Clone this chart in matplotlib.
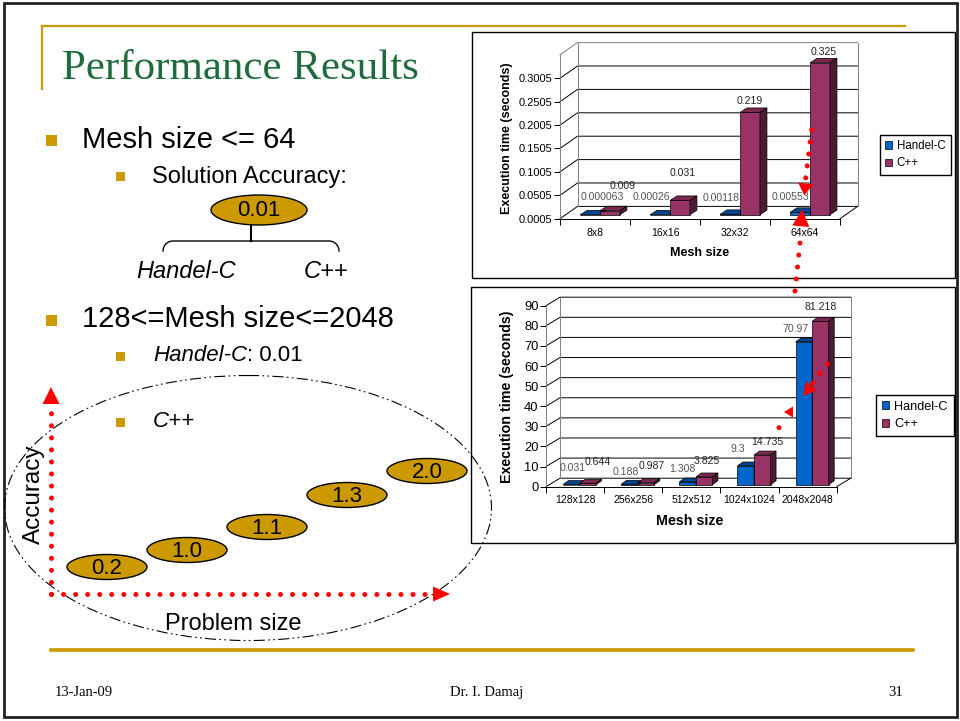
import matplotlib
matplotlib.use('Agg')
import matplotlib.pyplot as plt
import numpy as np
from matplotlib.patches import Rectangle, Ellipse, Polygon
from matplotlib.lines import Line2D
from matplotlib.transforms import offset_copy, IdentityTransform

plt.rcParams['font.family'] = ['Liberation Sans', 'DejaVu Sans']

# execution times, mesh size <= 64
small_meshes = ['8x8', '16x16', '32x32', '64x64']
small_handelc = [0.000063, 0.00026, 0.00118, 0.00553]
small_cpp = [0.009, 0.031, 0.219, 0.325]
small_ticks = [0.0005, 0.0505, 0.1005, 0.1505, 0.2005, 0.2505, 0.3005]
small_tick_labels = ['0.0005', '0.0505', '0.1005', '0.1505', '0.2005', '0.2505', '0.3005']

# execution times, 128 <= mesh size <= 2048
large_meshes = ['128x128', '256x256', '512x512', '1024x1024', '2048x2048']
large_handelc = [0.031, 0.188, 1.308, 9.3, 70.97]
large_cpp = [0.644, 0.987, 3.825, 14.735, 81.218]
large_ticks = [0, 10, 20, 30, 40, 50, 60, 70, 80, 90]

series_names = ['Handel-C', 'C++']
accuracy_labels = ['0.2', '1.0', '1.1', '1.3', '2.0']

W, H = 960, 721
GOLD = '#cc9900'
BLUE, BLUE_TOP, BLUE_SIDE = '#0066cc', '#00458c', '#003060'
PLUM, PLUM_TOP, PLUM_SIDE = '#993366', '#7a2850', '#4d1a33'

fig = plt.figure(figsize=(W / 100, H / 100), dpi=100)
fig.patch.set_facecolor('white')

bg = fig.add_axes([0, 0, 1, 1], zorder=0)
bg.set_xlim(0, W)
bg.set_ylim(H, 0)
bg.axis('off')

# slide frame and gold rules
bg.add_patch(Rectangle((4, 3), 953, 714, fill=False, lw=2, ec='#222222'))
bg.plot([42, 905], [26, 26], color=GOLD, lw=1.6)
bg.plot([42, 42], [26, 89], color=GOLD, lw=1.6)
bg.plot([51, 913], [650, 650], color=GOLD, lw=2.6)

bg.text(62, 79, 'Performance Results', family='Liberation Serif', fontsize=31,
        color='#1e6b3c', va='baseline')


def bullet(x, y, s):
    bg.add_patch(Rectangle((x, y), s, s, color=GOLD, lw=0))


bullet(46, 135, 11)
bg.text(82, 148, 'Mesh size <= 64', fontsize=21, va='baseline')
bullet(116, 172, 9)
bg.text(152, 182.7, 'Solution Accuracy:', fontsize=17, va='baseline')

# accuracy tree for small meshes
bg.add_patch(Ellipse((259, 210), 96, 30, fc=GOLD, ec='black', lw=1))
bg.text(259, 211, '0.01', fontsize=16, ha='center', va='center')
bg.plot([251, 251], [225, 241], color='black', lw=1.5)
r = 10
arc = np.linspace(0, np.pi / 2, 12)
bg.plot(np.concatenate([163 + r - r * np.cos(arc), 339 - r + r * np.sin(arc)]),
        np.concatenate([241 + r - r * np.sin(arc), 241 + r - r * np.cos(arc)]),
        color='black', lw=1)
bg.text(186, 277.7, 'Handel-C', fontsize=17, style='italic', ha='center', va='baseline')
bg.text(326, 277.7, 'C++', fontsize=17, style='italic', ha='center', va='baseline')

bullet(46, 315, 11)
bg.text(82, 326.7, '128<=Mesh size<=2048', fontsize=21, va='baseline')
bullet(116, 352, 9)
hc = bg.text(153, 366, 'Handel-C', fontsize=16, style='italic', va='bottom')
bg.annotate(': 0.01', xy=(1, 0), xycoords=hc, fontsize=16, va='bottom')
bullet(116, 417.5, 9)
bg.text(153, 427.3, 'C++', fontsize=16, style='italic', va='baseline')

# accuracy ellipses growing with problem size
acc_pos = [(107, 567), (187, 550), (267, 527), (347, 495), (427, 471)]
for (cx, cy), lab in zip(acc_pos, accuracy_labels):
    bg.add_patch(Ellipse((cx, cy), 80, 25, fc=GOLD, ec='black', lw=1))
    bg.text(cx, cy + 1.5, lab, fontsize=16, ha='center', va='center')

bg.text(33.5, 494, 'Accuracy', fontsize=17.5, rotation=90, ha='center', va='center')
bg.text(233, 630, 'Problem size', fontsize=17, ha='center', va='baseline')

# footer
bg.text(55, 696, '13-Jan-09', family='Liberation Serif', fontsize=10.5, va='baseline')
bg.text(487, 696, 'Dr. I. Damaj', family='Liberation Serif', fontsize=10.5,
        ha='center', va='baseline')
bg.text(903, 696, '31', family='Liberation Serif', fontsize=10.5, ha='right', va='baseline')

# chart frames
bg.add_patch(Rectangle((472, 32), 483, 246, fc='white', ec='black', lw=1))
bg.add_patch(Rectangle((471, 287), 484, 256, fc='white', ec='black', lw=1))


def chart3d(box, cats, s1, s2, ylim, ticks, tick_labels, depth, shift, bdepth,
            label_offsets, fs, lab_fs, title_xy, xlab_xy, leg_xy, leg_fs, xpad):
    x0, y0, x1, y1 = box
    ax = fig.add_axes([x0 / W, 1 - y1 / H, (x1 - x0) / W, (y1 - y0) / H], zorder=1)
    ax.patch.set_alpha(0)
    n = len(cats)
    xs = np.arange(n)
    ax.set_xlim(-0.5, n - 0.5)
    ax.set_ylim(*ylim)
    for s in ['top', 'right']:
        ax.spines[s].set_visible(False)
    ax.spines['left'].set_color('#808080')
    ax.spines['left'].set_linewidth(0.7)
    ax.spines['bottom'].set_linewidth(0.7)

    ax.set_yticks(ticks)
    ax.set_yticklabels(tick_labels)
    ax.tick_params(axis='y', length=4.3, width=0.7, pad=1, labelsize=fs)
    ax.set_xticks(xs)
    ax.set_xticklabels(cats)
    ax.set_xticks(np.arange(n + 1) - 0.5, minor=True)
    ax.tick_params(axis='x', which='major', length=0, pad=xpad, labelsize=7.5)
    ax.tick_params(axis='x', which='minor', length=4, width=0.7)

    def pt(x, y, dx=0, dy=0):
        px, py = ax.transData.transform((x, y))
        return px + dx, py + dy

    def seg(points, color='black', lw=0.7):
        ax.add_line(Line2D([p[0] for p in points], [p[1] for p in points],
                           transform=IdentityTransform(), color=color, lw=lw,
                           clip_on=False, zorder=1))

    # back wall, gridlines and floor
    xa, xb = ax.get_xlim()
    if ylim[1] not in ticks:
        seg([pt(xa, ylim[1]), pt(xa, ylim[1], *depth), pt(xb, ylim[1], *depth)],
            color='#808080')
    for v in ticks:
        seg([pt(xa, v), pt(xa, v, *depth), pt(xb, v, *depth)])
    seg([pt(xa, ylim[0], *depth), pt(xa, ylim[1], *depth)], color='#808080')
    seg([pt(xb, ylim[0], *depth), pt(xb, ylim[1], *depth)], color='#808080')
    seg([pt(xb, ylim[0]), pt(xb, ylim[0], *depth)])

    w = 0.285
    tf = offset_copy(ax.transData, fig=fig, x=shift[0], y=shift[1], units='dots')
    sx, sy = shift
    bx, by = bdepth
    handles = []
    styles = [(s1, -w / 2, BLUE, BLUE_TOP, BLUE_SIDE, '#555555'),
              (s2, w / 2, PLUM, PLUM_TOP, PLUM_SIDE, '#222222')]
    for k, (vals, off, face, top, side, lc) in enumerate(styles):
        vals = np.array(vals)
        bars = ax.bar(xs + off, vals - ylim[0], w, bottom=ylim[0], color=face,
                      edgecolor='black', lw=0.5, transform=tf, clip_on=False, zorder=3)
        handles.append(bars)
        for x, v in zip(xs + off, vals):
            fl = pt(x - w / 2, v, sx, sy)
            fr = pt(x + w / 2, v, sx, sy)
            br = pt(x + w / 2, ylim[0], sx, sy)
            ax.add_patch(Polygon([fl, fr, (fr[0] + bx, fr[1] + by), (fl[0] + bx, fl[1] + by)],
                                 closed=True, fc=top, ec='black', lw=0.5,
                                 transform=IdentityTransform(), clip_on=False, zorder=3))
            ax.add_patch(Polygon([fr, (fr[0] + bx, fr[1] + by), (br[0] + bx, br[1] + by), br],
                                 closed=True, fc=side, ec='black', lw=0.5,
                                 transform=IdentityTransform(), clip_on=False, zorder=3))
        for x, v, (dx, dy) in zip(xs + off, vals, label_offsets[k]):
            ax.annotate(np.format_float_positional(v), xy=(x, v), xycoords=tf,
                        xytext=(dx, dy), textcoords='offset pixels', ha='center',
                        va='center', fontsize=lab_fs, color=lc, annotation_clip=False,
                        zorder=4)

    bg.text(*title_xy, 'Execution time (seconds)', fontsize=fs + 1, weight='bold',
            rotation=90, ha='center', va='center')
    bg.text(*xlab_xy, 'Mesh size', fontsize=fs + 1, weight='bold', ha='center', va='center')
    ax.legend(handles, series_names, loc='upper left', bbox_to_anchor=(leg_xy[0] / W, 1 - leg_xy[1] / H),
              bbox_transform=fig.transFigure, fontsize=leg_fs, frameon=True, fancybox=False,
              edgecolor='black', framealpha=1, handlelength=0.6, handleheight=0.6,
              handletextpad=0.4, borderpad=0.45, labelspacing=0.45, borderaxespad=0)
    return ax


small_offsets = [[(12, 17.7), (-9, 17.7), (-9, 16.5), (-10, 15.4)],
                 [(13, 24.7), (3, 27.4), (0, 11.4), (4, 10.8)]]
large_offsets = [[(1.2, 16.3), (-3.4, 12.6), (-5.5, 12.8), (-7.9, 16.7), (-8.4, 12.7)],
                 [(9.9, 21.1), (6.1, 16.7), (2.7, 16.3), (4.6, 13.4), (0.5, 14.4)]]

chart3d((560, 54.9, 840, 218.7), small_meshes, small_handelc, small_cpp, (0.0005, 0.3505),
        small_ticks, small_tick_labels, depth=(17.5, 12.3), shift=(5, 4), bdepth=(7, 4.5),
        label_offsets=small_offsets, fs=8, lab_fs=7.6, title_xy=(507, 138),
        xlab_xy=(700, 253), leg_xy=(880, 135), leg_fs=8.3, xpad=7)

chart3d((546, 305.7, 836.7, 486.7), large_meshes, large_handelc, large_cpp, (0, 90),
        large_ticks, [str(t) for t in large_ticks], depth=(14, 8.5), shift=(4.5, 2),
        bdepth=(5.5, 4), label_offsets=large_offsets, fs=9.3, lab_fs=7.6,
        title_xy=(507, 397), xlab_xy=(690, 521), leg_xy=(876, 395), leg_fs=9.1, xpad=6)

# overlay: dash-dot outline and red pointer arrows
ov = fig.add_axes([0, 0, 1, 1], zorder=5)
ov.set_xlim(0, W)
ov.set_ylim(H, 0)
ov.axis('off')
ov.patch.set_alpha(0)

ov.add_patch(Ellipse((248, 508), 487, 265, fill=False, ec='black', lw=0.8,
                     ls=(0, (10, 3, 1.5, 3, 1.5, 3))))


def dots(p0, p1):
    ov.plot([p0[0], p1[0]], [p0[1], p1[1]], color='red', lw=3.6,
            ls=(0, (0.01, 2.4)), dash_capstyle='round')


def head(tip, direction, length, half):
    d = np.array(direction, float)
    d /= np.hypot(*d)
    nrm = np.array([-d[1], d[0]])
    tip = np.array(tip, float)
    base = tip - d * length
    ov.add_patch(Polygon([tip, base + nrm * half, base - nrm * half], closed=True,
                         color='red', lw=0))


dots((51, 594), (51, 413))
head((51, 387), (0, -1), 17, 8.5)
dots((51, 594), (428, 594))
head((450, 594), (1, 0), 17, 7.5)

dots((811.7, 130), (805.7, 178))
head((804.3, 195.5), (-7.4, 65), 12, 7.5)
dots((795, 291), (800, 243))
head((802.3, 209.3), (7.3, -81.7), 17, 8.5)

dots((827.3, 364), (812.3, 383.3))
head((803.3, 396), (-15, 19), 13, 7)
dots((779, 427.7), (785.7, 417.7))
head((784, 412), (-1, 0), 9, 5.5)

fig.savefig('out.png', dpi=100)
